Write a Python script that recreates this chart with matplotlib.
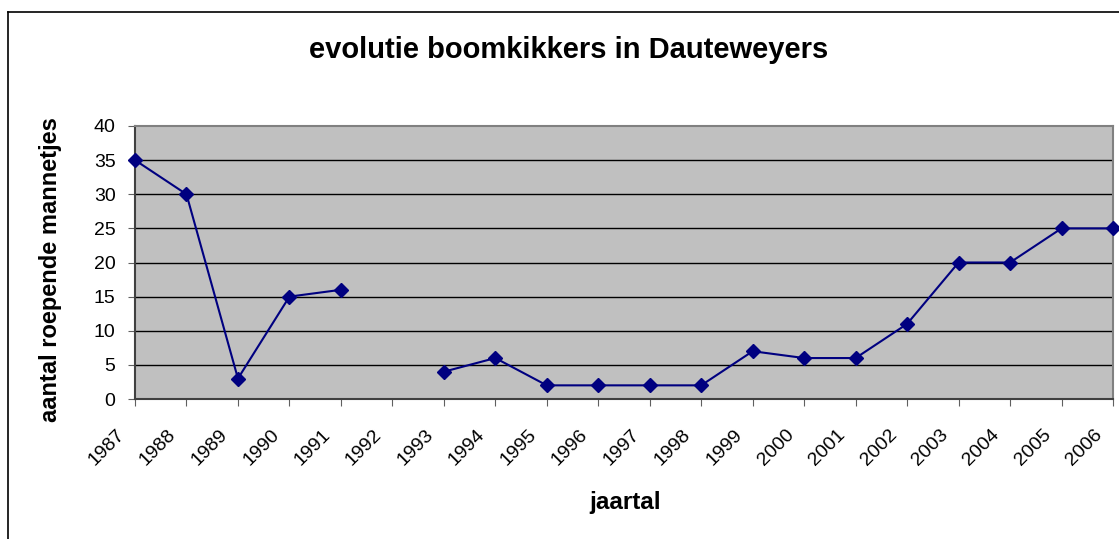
import matplotlib
matplotlib.use('Agg')
import matplotlib.pyplot as plt
from matplotlib.lines import Line2D
from matplotlib.transforms import ScaledTranslation
import numpy as np

plt.rcParams['font.family'] = ['Liberation Sans', 'DejaVu Sans']

# data (1992 has no value)
jaren = ['1987', '1988', '1989', '1990', '1991', '1992', '1993', '1994', '1995', '1996',
         '1997', '1998', '1999', '2000', '2001', '2002', '2003', '2004', '2005', '2006']
mannetjes = [35, 30, 3, 15, 16, np.nan, 4, 6, 2, 2,
             2, 2, 7, 6, 6, 11, 20, 20, 25, 25]
y_ticks = [0, 5, 10, 15, 20, 25, 30, 35, 40]

W, H = 1119, 539
fig = plt.figure(figsize=(W / 100, H / 100), dpi=100)
ax = fig.add_axes([135 / W, 1 - 399 / H, (1113 - 135) / W, (399 - 126) / H])

x = np.arange(len(jaren))
ax.set_facecolor('#c0c0c0')
for v in y_ticks[1:-1]:
    ax.axhline(v, color='black', lw=1, zorder=1)

ax.plot(x, mannetjes, color='#000080', lw=1.5, marker='D', ms=7.5,
        markerfacecolor='#000080', markeredgecolor='#000080', zorder=3, clip_on=False)

ax.set_xlim(0, len(jaren) - 1)
ax.set_ylim(0, 40)
ax.set_yticks(y_ticks)
ax.set_xticks(x)
ax.set_xticklabels(jaren, rotation=45, ha='right', va='center', rotation_mode='anchor')
ax.tick_params(axis='both', direction='out', length=5, color='#606060', labelsize=14)
ax.tick_params(axis='x', pad=19)
ax.tick_params(axis='y', pad=9)

# shift the year labels a bit to the left, like the original
shift = ScaledTranslation(-13 / 100, 0, fig.dpi_scale_trans)
for lab in ax.get_xticklabels():
    lab.set_transform(lab.get_transform() + shift)

for s in ax.spines.values():
    s.set_color('#808080')
    s.set_linewidth(1.5)
ax.spines['bottom'].set_color('#404040')
ax.spines['left'].set_color('#404040')

fig.text(51 / W, 1 - 270 / H, 'aantal roepende mannetjes', rotation=90, ha='center', va='center',
         fontsize=17, fontweight='bold')
fig.text(625 / W, 1 - 503 / H, 'jaartal', ha='center', va='center',
         fontsize=17.5, fontweight='bold')
fig.text(569 / W, 1 - 50 / H, 'evolutie boomkikkers in Dauteweyers', ha='center', va='center',
         fontsize=21, fontweight='bold')

# chart area border (only top and left visible)
fig.add_artist(Line2D([8 / W, 8 / W], [0, 1 - 11.5 / H], color='black', lw=1.2))
fig.add_artist(Line2D([8 / W, 1], [1 - 11.5 / H, 1 - 11.5 / H], color='black', lw=1.2))

fig.savefig('out.png', dpi=100)
